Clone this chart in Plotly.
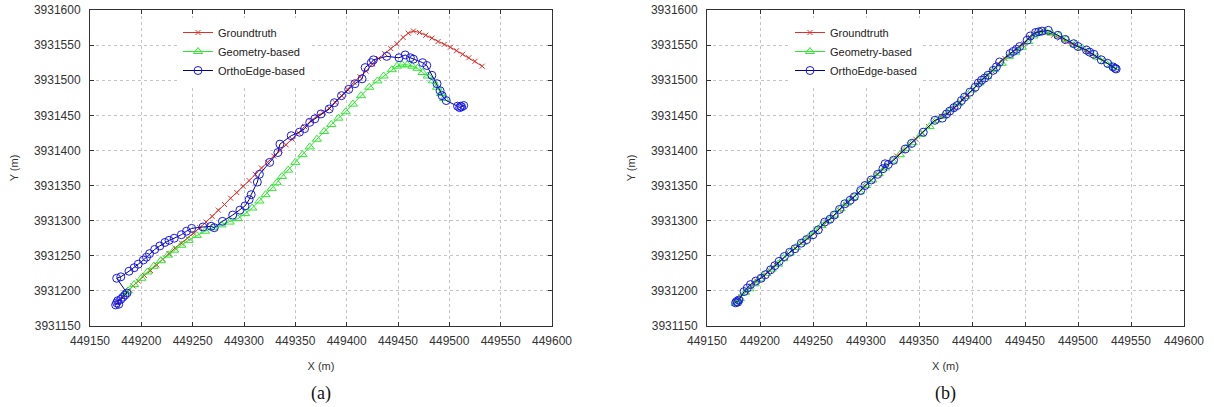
import plotly.graph_objects as go

# ---------------- data ----------------
gt_x = [449177, 449182, 449187, 449192, 449197, 449203, 449209, 449215, 449221, 449227,
        449233, 449239, 449245, 449251, 449257, 449263, 449269, 449275, 449281, 449287,
        449293, 449299, 449305, 449311, 449317, 449323, 449329, 449335, 449341, 449347,
        449353, 449359, 449365, 449371, 449377, 449383, 449389, 449395, 449401, 449407,
        449413, 449419, 449425, 449431, 449437, 449443, 449449, 449455, 449460, 449465,
        449471, 449477, 449483, 449489, 449495, 449501, 449507, 449513, 449519, 449525, 449532]
gt_y = [3931184, 3931192, 3931199, 3931207, 3931214, 3931222, 3931229, 3931237, 3931245, 3931253,
        3931261, 3931268, 3931275, 3931282, 3931290, 3931298, 3931306, 3931315, 3931323, 3931332,
        3931340, 3931349, 3931357, 3931366, 3931375, 3931383, 3931392, 3931400, 3931408, 3931416,
        3931425, 3931434, 3931442, 3931449, 3931454, 3931460, 3931468, 3931478, 3931487, 3931497,
        3931505, 3931513, 3931523, 3931531, 3931538, 3931545, 3931552, 3931561, 3931567, 3931570,
        3931568, 3931564, 3931560, 3931555, 3931551, 3931547, 3931542, 3931537, 3931532, 3931527, 3931520]

# (a) Geometry-based
geo_a_x = [449184, 449187, 449193, 449200, 449206, 449212, 449219, 449226, 449232, 449239,
           449246, 449254, 449262, 449270, 449278, 449286, 449294, 449301, 449308, 449315,
           449321, 449327, 449332, 449337, 449343, 449350, 449357, 449364, 449371, 449378,
           449385, 449392, 449399, 449406, 449414, 449422, 449430, 449436, 449444, 449449,
           449454, 449459, 449464, 449469, 449474, 449479, 449484, 449488, 449492, 449495]
geo_a_y = [3931197, 3931200, 3931209, 3931218, 3931227, 3931235, 3931243, 3931251, 3931258, 3931265,
           3931272, 3931279, 3931285, 3931290, 3931294, 3931298, 3931303, 3931310, 3931318, 3931328,
           3931337, 3931346, 3931354, 3931363, 3931372, 3931383, 3931394, 3931405, 3931416, 3931427,
           3931437, 3931446, 3931455, 3931466, 3931478, 3931490, 3931499, 3931506, 3931515, 3931520,
           3931522, 3931522, 3931520, 3931517, 3931511, 3931506, 3931499, 3931490, 3931481, 3931474]

# (a) OrthoEdge-based
ortho_a_x = [449175, 449176, 449178, 449177, 449180, 449182, 449184, 449186,
             449176, 449180, 449188, 449193, 449197, 449202, 449205, 449208, 449213, 449218,
             449223, 449227, 449232, 449239, 449244, 449249, 449260, 449268, 449271, 449279,
             449289, 449296, 449301, 449305, 449307, 449313, 449315, 449325, 449333, 449335,
             449346, 449354, 449359, 449364, 449369, 449375, 449383, 449388, 449395, 449402,
             449408, 449415, 449418, 449424, 449426, 449439, 449451, 449457, 449462, 449465,
             449474, 449478, 449483, 449488, 449491, 449493, 449497, 449508, 449510, 449512,
             449514, 449511]
ortho_a_y = [3931180, 3931183, 3931181, 3931186, 3931188, 3931191, 3931194, 3931197,
             3931218, 3931220, 3931228, 3931233, 3931238, 3931244, 3931248, 3931253, 3931259, 3931264,
             3931269, 3931272, 3931275, 3931280, 3931285, 3931289, 3931291, 3931292, 3931290, 3931299,
             3931308, 3931315, 3931321, 3931330, 3931337, 3931355, 3931366, 3931383, 3931397, 3931409,
             3931421, 3931426, 3931431, 3931440, 3931445, 3931452, 3931459, 3931468, 3931478, 3931487,
             3931495, 3931502, 3931518, 3931525, 3931529, 3931534, 3931532, 3931536, 3931532, 3931530,
             3931525, 3931521, 3931507, 3931495, 3931485, 3931478, 3931471, 3931463, 3931461, 3931462,
             3931464, 3931463]

# (b) OrthoEdge-based
ortho_b_x = [449177, 449178, 449179, 449180, 449185, 449188, 449191, 449196, 449201, 449205,
             449210, 449214, 449218, 449223, 449228, 449233, 449239, 449244, 449250, 449255,
             449261, 449266, 449270, 449275, 449280, 449285, 449289, 449295, 449299, 449305,
             449311, 449316, 449318, 449321, 449326, 449337, 449343, 449354, 449365, 449372,
             449376, 449379, 449383, 449386, 449390, 449393, 449398, 449403, 449406, 449409,
             449412, 449415, 449420, 449423, 449426, 449436, 449439, 449442, 449445, 449452,
             449455, 449460, 449463, 449466, 449472, 449481, 449488, 449496, 449500, 449508,
             449511, 449515, 449522, 449528, 449533, 449535, 449536]
ortho_b_y = [3931183, 3931185, 3931184, 3931187, 3931199, 3931204, 3931209, 3931214, 3931218, 3931223,
             3931230, 3931236, 3931242, 3931249, 3931255, 3931260, 3931268, 3931273, 3931280, 3931287,
             3931298, 3931302, 3931308, 3931316, 3931324, 3931329, 3931334, 3931343, 3931350, 3931358,
             3931366, 3931374, 3931381, 3931380, 3931386, 3931402, 3931410, 3931426, 3931443, 3931446,
             3931452, 3931456, 3931461, 3931464, 3931471, 3931476, 3931483, 3931490, 3931496, 3931500,
             3931503, 3931507, 3931514, 3931519, 3931526, 3931538, 3931541, 3931544, 3931548, 3931557,
             3931563, 3931568, 3931569, 3931570, 3931571, 3931564, 3931558, 3931552, 3931548, 3931543,
             3931540, 3931537, 3931529, 3931524, 3931519, 3931517, 3931516]

# (b) Geometry-based
geo_b_x = [449177, 449179, 449181, 449186, 449190, 449195, 449200, 449206, 449211, 449217,
           449222, 449228, 449234, 449240, 449246, 449252, 449258, 449264, 449270, 449276,
           449282, 449288, 449294, 449300, 449306, 449312, 449318, 449325, 449332, 449338,
           449344, 449352, 449360, 449366, 449373, 449380, 449387, 449394, 449400, 449407,
           449414, 449421, 449428, 449435, 449441, 449447, 449453, 449458, 449463, 449469,
           449475, 449482, 449489, 449497, 449504, 449511, 449518, 449525, 449531, 449535]
geo_b_y = [3931182, 3931186, 3931189, 3931198, 3931203, 3931210, 3931217, 3931225, 3931231, 3931238,
           3931246, 3931254, 3931262, 3931269, 3931277, 3931285, 3931293, 3931300, 3931308, 3931317,
           3931325, 3931333, 3931341, 3931350, 3931358, 3931367, 3931375, 3931385, 3931394, 3931403,
           3931411, 3931423, 3931434, 3931443, 3931449, 3931458, 3931467, 3931477, 3931486, 3931496,
           3931505, 3931515, 3931524, 3931534, 3931540, 3931547, 3931555, 3931563, 3931568, 3931570,
           3931567, 3931563, 3931558, 3931551, 3931546, 3931540, 3931533, 3931527, 3931521, 3931518]

series_names = ["Groundtruth", "Geometry-based", "OrthoEdge-based"]
x_ticks = [449150, 449200, 449250, 449300, 449350, 449400, 449450, 449500, 449550, 449600]
y_ticks = [3931150, 3931200, 3931250, 3931300, 3931350, 3931400, 3931450, 3931500, 3931550, 3931600]
panel_labels = ["(a)", "(b)"]

# ---------------- styles ----------------
RED = "#e0302a"
GREEN = "#2ee82e"
BLUE_M = "#1a1ae6"
BLUE_L = "#00008b"
FONT = "Liberation Sans, Arial, sans-serif"

W, H = 1214, 407
fig = go.Figure()

panels = [
    dict(xa="x", ya="y", leg="legend",
         data=[(gt_x, gt_y), (geo_a_x, geo_a_y), (ortho_a_x, ortho_a_y)]),
    dict(xa="x2", ya="y2", leg="legend2",
         data=[(gt_x, gt_y), (geo_b_x, geo_b_y), (ortho_b_x, ortho_b_y)]),
]

for p in panels:
    (gx, gy), (mx, my), (ox, oy) = p["data"]
    fig.add_trace(go.Scatter(x=gx, y=gy, mode="lines+markers", name=series_names[0],
                             xaxis=p["xa"], yaxis=p["ya"], legend=p["leg"],
                             line=dict(color=RED, width=1),
                             marker=dict(symbol="x-thin-open", size=5, color=RED,
                                         line=dict(color=RED, width=1))))
    fig.add_trace(go.Scatter(x=mx, y=my, mode="lines+markers", name=series_names[1],
                             xaxis=p["xa"], yaxis=p["ya"], legend=p["leg"],
                             line=dict(color=GREEN, width=1),
                             marker=dict(symbol="triangle-up-open", size=8, color=GREEN,
                                         line=dict(color=GREEN, width=1))))
    fig.add_trace(go.Scatter(x=ox, y=oy, mode="lines+markers", name=series_names[2],
                             xaxis=p["xa"], yaxis=p["ya"], legend=p["leg"],
                             line=dict(color=BLUE_L, width=1),
                             marker=dict(symbol="circle-open", size=8, color=BLUE_M,
                                         line=dict(color=BLUE_M, width=1))))

def px_x(v):
    return v / W

def px_y(v):
    return 1 - v / H

axis_common = dict(
    showline=True, linecolor="#333333", linewidth=1, mirror="ticks",
    ticks="inside", ticklen=4, tickcolor="#333333",
    showgrid=True, gridcolor="#c4c4c4", gridwidth=1, griddash="3px,3px",
    zeroline=False, tickformat="d", ticklabeloverflow="allow",
    tickfont=dict(family=FONT, size=12, color="#333333"),
    automargin=False,
)

title_font = dict(family=FONT, size=11, color="#333333")
dom_y = [px_y(326), px_y(10)]
fig.update_layout(
    width=W, height=H, autosize=False,
    margin=dict(l=0, r=0, t=0, b=0),
    paper_bgcolor="white", plot_bgcolor="white",
    showlegend=True,
    xaxis=dict(domain=[px_x(90), px_x(552)], range=[449150, 449600], tickvals=x_ticks,
               anchor="y", ticklabelstandoff=4,
               title=dict(text="X (m)", standoff=14, font=title_font),
               **axis_common),
    yaxis=dict(domain=dom_y, range=[3931150, 3931600], tickvals=y_ticks, anchor="x",
               ticklabelstandoff=6,
               title=dict(text="Y (m)", standoff=13, font=title_font),
               **axis_common),
    xaxis2=dict(domain=[px_x(707), px_x(1184)], range=[449150, 449600], tickvals=x_ticks,
                anchor="y2", ticklabelstandoff=4,
                title=dict(text="X (m)", standoff=14, font=title_font),
                **axis_common),
    yaxis2=dict(domain=dom_y, range=[3931150, 3931600], tickvals=y_ticks, anchor="x2",
                ticklabelstandoff=6,
                title=dict(text="Y (m)", standoff=13, font=title_font),
                **axis_common),
    legend=dict(x=px_x(178), y=px_y(18), xanchor="left", yanchor="top",
                bgcolor="white", borderwidth=0, tracegroupgap=0,
                font=dict(family=FONT, size=11, color="#222222"),
                itemwidth=30),
    legend2=dict(x=px_x(790), y=px_y(18), xanchor="left", yanchor="top",
                 bgcolor="white", borderwidth=0, tracegroupgap=0,
                 font=dict(family=FONT, size=11, color="#222222"),
                 itemwidth=30),
    annotations=[
        dict(text=panel_labels[0], x=px_x(321), y=px_y(393), xref="paper", yref="paper",
             xanchor="center", yanchor="middle", showarrow=False,
             font=dict(family="Liberation Serif, Times New Roman, serif", size=18, color="#111111")),
        dict(text=panel_labels[1], x=px_x(945), y=px_y(393), xref="paper", yref="paper",
             xanchor="center", yanchor="middle", showarrow=False,
             font=dict(family="Liberation Serif, Times New Roman, serif", size=18, color="#111111")),
    ],
)

fig.write_html("out.html", config={"displayModeBar": False},
               post_script="document.body.style.margin='0px';")
